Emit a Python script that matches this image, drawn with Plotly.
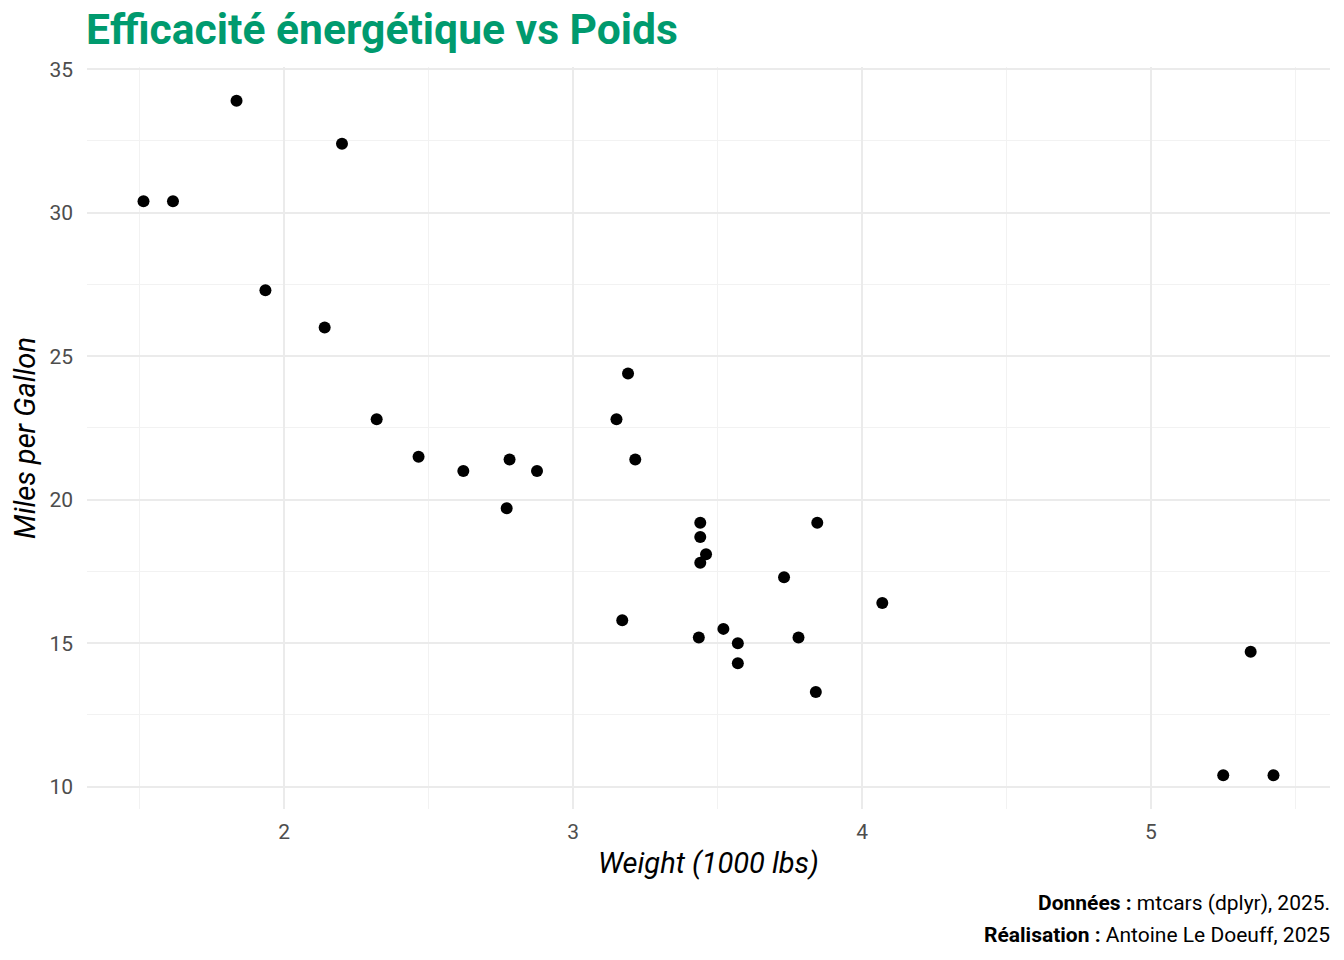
import plotly.graph_objects as go

wt = [2.620, 2.875, 2.320, 3.215, 3.440, 3.460, 3.570, 3.190, 3.150, 3.440, 3.440,
      4.070, 3.730, 3.780, 5.250, 5.424, 5.345, 2.200, 1.615, 1.835, 2.465, 3.520,
      3.435, 3.840, 3.845, 1.935, 2.140, 1.513, 3.170, 2.770, 3.570, 2.780]
mpg = [21.0, 21.0, 22.8, 21.4, 18.7, 18.1, 14.3, 24.4, 22.8, 19.2, 17.8,
       16.4, 17.3, 15.2, 10.4, 10.4, 14.7, 32.4, 30.4, 33.9, 21.5, 15.5,
       15.2, 13.3, 19.2, 27.3, 26.0, 30.4, 15.8, 19.7, 15.0, 21.4]

title = "Efficacité énergétique vs Poids"
x_title = "Weight (1000 lbs)"
y_title = "Miles per Gallon"
caption_lines = ["<b>Données :</b> mtcars (dplyr), 2025.",
                 "<b>Réalisation :</b> Antoine Le Doeuff, 2025"]

xspan = max(wt) - min(wt)
yspan = max(mpg) - min(mpg)
xr = [min(wt) - 0.05 * xspan, max(wt) + 0.05 * xspan]
yr = [min(mpg) - 0.05 * yspan, max(mpg) + 0.05 * yspan]

fig = go.Figure(go.Scatter(
    x=wt, y=mpg, mode="markers",
    marker=dict(color="black", size=12),
    hoverinfo="skip",
))

grid_major = "#EBEBEB"
grid_minor = "#F2F2F2"

caption_y = [-0.1267, -0.1698]
annotations = [dict(text=t, xref="paper", yref="paper", x=1.001, y=yy,
                    xanchor="right", yanchor="middle", align="right", showarrow=False,
                    borderpad=0,
                    font=dict(family="Roboto", size=21, color="black"))
               for t, yy in zip(caption_lines, caption_y)]

fig.update_layout(
    width=1344, height=960,
    paper_bgcolor="white", plot_bgcolor="white",
    margin=dict(l=87, r=14, t=67, b=151),
    font=dict(family="Roboto", color="#4D4D4D", size=21),
    showlegend=False,
    title=dict(text="<b>" + title + "</b>", x=86 / 1344, xanchor="left",
               y=1 - 29 / 960, yanchor="middle",
               font=dict(family="Roboto", size=42.6, color="#009A6E")),
    xaxis=dict(range=xr, dtick=1, tick0=0, showgrid=True, gridcolor=grid_major,
               gridwidth=2, zeroline=False, showline=False, ticks="",
               ticklabelstandoff=8,
               tickfont=dict(size=21, color="#4D4D4D"),
               minor=dict(dtick=0.5, tick0=0.5, showgrid=True, gridcolor=grid_minor, gridwidth=1),
               title=dict(text="<i>" + x_title + "</i>", standoff=9,
                          font=dict(size=29, color="black"))),
    yaxis=dict(range=yr, dtick=5, tick0=0, showgrid=True, gridcolor=grid_major,
               gridwidth=2, zeroline=False, showline=False, ticks="",
               ticklabelstandoff=13,
               tickfont=dict(size=21, color="#4D4D4D"),
               minor=dict(dtick=2.5, tick0=2.5, showgrid=True, gridcolor=grid_minor, gridwidth=1),
               title=dict(text="<i>" + y_title + "</i>", standoff=5,
                          font=dict(size=29, color="black"))),
    annotations=annotations,
)

fig.write_html("out.html", config={"displayModeBar": False},
               post_script="document.body.style.margin='0';document.body.style.overflow='hidden';")
